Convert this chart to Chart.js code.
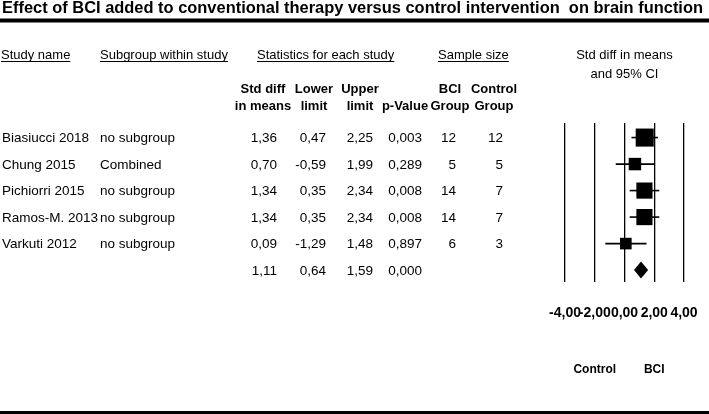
<!DOCTYPE html>
<html>
<head>
<meta charset="utf-8">
<script src="https://cdn.jsdelivr.net/npm/chart.js@4"></script>
<style>
  html, body { margin: 0; padding: 0; background: #fff; }
  #wrap { width: 709px; height: 414px; }
</style>
</head>
<body>
<div id="wrap"><canvas id="forest"></canvas></div>
<script>
// data
const studyNames = ['Biasiucci 2018', 'Chung 2015', 'Pichiorri 2015', 'Ramos-M. 2013', 'Varkuti 2012'];
const subgroups = ['no subgroup', 'Combined', 'no subgroup', 'no subgroup', 'no subgroup'];
const stdDiff = [1.36, 0.70, 1.34, 1.34, 0.09];
const lowerLimit = [0.47, -0.59, 0.35, 0.35, -1.29];
const upperLimit = [2.25, 1.99, 2.34, 2.34, 1.48];
const pValues = [0.003, 0.289, 0.008, 0.008, 0.897];
const bciGroup = [12, 5, 14, 14, 6];
const controlGroup = [12, 5, 7, 7, 3];
const summaryEst = 1.11;
const summaryLower = 0.64;
const summaryUpper = 1.59;
const summaryP = 0.000;
const xTicks = [-4, -2, 0, 2, 4];

const FONT = '"Liberation Sans", Arial, sans-serif';
const comma = (v, d) => v.toFixed(d).replace('.', ',');

// box side from inverse variance weight (CI width / 3.92 = SE)
const boxSide = stdDiff.map((_, i) => {
    const se = (upperLimit[i] - lowerLimit[i]) / 3.92;
    return 8.2 * Math.sqrt(1 / (se * se));
});

const ciSets = studyNames.map((_, i) => ({
    data: [{ x: lowerLimit[i], y: i }, { x: upperLimit[i], y: i }],
    showLine: true,
    borderColor: '#000',
    borderWidth: 1.6,
    pointRadius: 0,
    order: 2
}));

const tablePlugin = {
    id: 'tableText',
    afterDraw(chart) {
        const { ctx, scales: { x, y } } = chart;
        ctx.save();
        ctx.fillStyle = '#000';
        ctx.strokeStyle = '#000';

        // title, squeezed to the full width
        const title = 'Effect of BCI added to conventional therapy versus control intervention  on brain function';
        ctx.font = 'bold 17px ' + FONT;
        const tw = ctx.measureText(title).width;
        ctx.save();
        ctx.translate(2, 13);
        ctx.scale(701 / tw, 1);
        ctx.textBaseline = 'alphabetic';
        ctx.fillText(title, 0, 0);
        ctx.restore();

        ctx.fillRect(0, 18.5, 709, 4);
        ctx.fillRect(0, 411, 709, 3);

        // group headers, underlined
        ctx.font = '13px ' + FONT;
        ctx.textBaseline = 'alphabetic';
        ctx.textAlign = 'left';
        [['Study name', 1], ['Subgroup within study', 100], ['Statistics for each study', 257], ['Sample size', 438]]
            .forEach(([t, px]) => {
                ctx.fillText(t, px, 59);
                ctx.fillRect(px, 61, ctx.measureText(t).width, 1);
            });
        ctx.textAlign = 'center';
        const mid = x.getPixelForValue(0);
        ctx.fillText('Std diff in means', mid, 59);
        ctx.fillText('and 95% CI', mid, 78);

        // column headers
        ctx.font = 'bold 13px ' + FONT;
        [['Std diff', 'in means', 263], ['Lower', 'limit', 314], ['Upper', 'limit', 360],
         ['', 'p-Value', 405], ['BCI', 'Group', 450], ['Control', 'Group', 494]]
            .forEach(([a, b, px]) => {
                ctx.fillText(a, px, 93);
                ctx.fillText(b, px, 110);
            });

        // rows
        ctx.font = '13.5px ' + FONT;
        ctx.textBaseline = 'middle';
        studyNames.forEach((name, i) => {
            const py = y.getPixelForValue(i) + 1;
            ctx.textAlign = 'left';
            ctx.fillText(name, 2, py);
            ctx.fillText(subgroups[i], 100, py);
            ctx.textAlign = 'right';
            ctx.fillText(comma(stdDiff[i], 2), 277, py);
            ctx.fillText(comma(lowerLimit[i], 2), 326, py);
            ctx.fillText(comma(upperLimit[i], 2), 373, py);
            ctx.fillText(comma(pValues[i], 3), 422, py);
            ctx.fillText(String(bciGroup[i]), 456, py);
            ctx.fillText(String(controlGroup[i]), 503, py);
        });
        const sy = y.getPixelForValue(studyNames.length) + 1;
        ctx.fillText(comma(summaryEst, 2), 277, sy);
        ctx.fillText(comma(summaryLower, 2), 326, sy);
        ctx.fillText(comma(summaryUpper, 2), 373, sy);
        ctx.fillText(comma(summaryP, 3), 422, sy);

        // summary diamond
        const dy = y.getPixelForValue(studyNames.length);
        ctx.beginPath();
        ctx.moveTo(x.getPixelForValue(summaryLower), dy);
        ctx.lineTo(x.getPixelForValue(summaryEst), dy - 8.5);
        ctx.lineTo(x.getPixelForValue(summaryUpper), dy);
        ctx.lineTo(x.getPixelForValue(summaryEst), dy + 8.5);
        ctx.closePath();
        ctx.fill();

        // favours labels
        ctx.font = 'bold 12px ' + FONT;
        ctx.textAlign = 'center';
        ctx.fillText('Control', x.getPixelForValue(-2), 370);
        ctx.fillText('BCI', x.getPixelForValue(2), 370);
        ctx.restore();
    }
};

new Chart(document.getElementById('forest'), {
    type: 'scatter',
    data: {
        datasets: [{
            data: stdDiff.map((v, i) => ({ x: v, y: i })),
            pointStyle: 'rect',
            pointRadius: boxSide.map(s => s / Math.SQRT2),
            backgroundColor: '#000',
            borderColor: '#000',
            borderWidth: 0,
            order: 1
        }, ...ciSets]
    },
    options: {
        responsive: true,
        maintainAspectRatio: false,
        animation: false,
        events: [],
        layout: { padding: { left: 565, right: 25, top: 123, bottom: 92 } },
        scales: {
            x: {
                type: 'linear',
                min: -4,
                max: 4,
                afterBuildTicks: scale => { scale.ticks = xTicks.map(v => ({ value: v })); },
                afterFit: scale => {
                    scale.height = 40;
                    scale.paddingLeft = 0;
                    scale.paddingRight = 0;
                },
                grid: { color: '#000', lineWidth: 1.3, drawTicks: false },
                border: { display: false },
                ticks: {
                    padding: 23,
                    color: '#000',
                    font: { family: FONT, size: 14, weight: 'bold' },
                    callback: v => comma(v, 2),
                    maxRotation: 0,
                    autoSkip: false
                }
            },
            y: {
                type: 'linear',
                min: -0.55,
                max: 5.45,
                reverse: true,
                display: false
            }
        },
        plugins: {
            legend: { display: false },
            tooltip: { enabled: false }
        }
    },
    plugins: [tablePlugin]
});
</script>
</body>
</html>
